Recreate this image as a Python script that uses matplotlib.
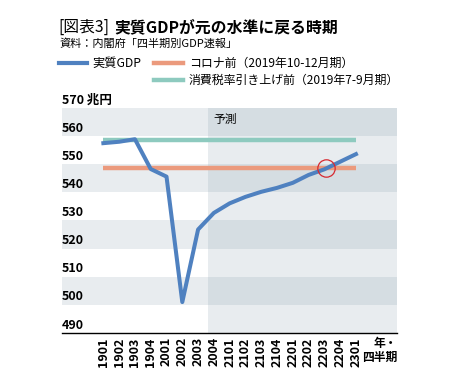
import numpy as np
import matplotlib
matplotlib.use('Agg')
import matplotlib.pyplot as plt
from matplotlib.patches import Rectangle

plt.rcParams['font.family'] = ['Noto Sans CJK JP', 'DejaVu Sans']

# --- datos ---
quarters = ['1901', '1902', '1903', '1904', '2001', '2002', '2003', '2004',
            '2101', '2102', '2103', '2104', '2201', '2202', '2203', '2204', '2301']
gdp = [557.5, 558.0, 558.9, 548.3, 545.6, 501.0, 526.8, 532.7,
       536.1, 538.4, 540.2, 541.6, 543.4, 546.2, 548.2, 550.9, 553.6]
pre_corona = 548.5     # 2019年10-12月期
pre_tax = 558.8        # 2019年7-9月期
forecast_from = '2004'
yticks = [490, 500, 510, 520, 530, 540, 550, 560, 570]

blue = '#4f81c0'
orange = '#eb9a7d'
teal = '#8ecabf'

W, H = 455, 389
fig = plt.figure(figsize=(W / 100, H / 100), dpi=100)
fig.patch.set_facecolor('white')

def fx(px):
    return px / W

def fy(py):
    return 1 - py / H

ax = fig.add_axes([fx(62), fy(333), fx(397) - fx(62), fy(108) - fy(333)])
x = np.arange(len(quarters))
xmin, xmax = -2.62, 18.6
ax.set_xlim(xmin, xmax)
ax.set_ylim(yticks[0], yticks[-1])

# bandas de fondo (gris / blanco, más oscuro en la zona de previsión)
fc_start = quarters.index(forecast_from) - 0.37
for i, lo in enumerate(yticks[:-1]):
    odd = i % 2 == 1
    ax.add_patch(Rectangle((xmin, lo), fc_start - xmin, 10,
                           facecolor='#e8ecef' if odd else 'white', edgecolor='none', zorder=0))
    ax.add_patch(Rectangle((fc_start, lo), xmax - fc_start, 10,
                           facecolor='#d5dde2' if odd else '#e8ecef', edgecolor='none', zorder=0))

ax.text(fc_start + 0.35, 568.2, '予測', fontsize=8.5, va='top', ha='left')

# líneas de referencia y serie
ax.plot([x[0], x[-1]], [pre_tax, pre_tax], color=teal, lw=3.2, solid_capstyle='butt', zorder=2)
ax.plot([x[0], x[-1]], [pre_corona, pre_corona], color=orange, lw=3.2, solid_capstyle='butt', zorder=2)
ax.plot(x, gdp, color=blue, lw=2.9, zorder=3)

# punto donde el PIB vuelve al nivel pre-corona
g = np.array(gdp)
k = np.where((g[:-1] < pre_corona) & (g[1:] >= pre_corona))[0][-1]
xc = k + (pre_corona - g[k]) / (g[k + 1] - g[k])
ax.plot([xc], [pre_corona], marker='o', ms=12.5, mfc='none', mec='#d7282f', mew=0.9, zorder=4)

# ejes
for s in ['top', 'right', 'left']:
    ax.spines[s].set_visible(False)
ax.spines['bottom'].set_color('black')
ax.spines['bottom'].set_linewidth(1.0)
ax.set_yticks([])
ax.set_xticks(x)
ax.set_xticklabels(quarters, rotation=90, fontsize=9, fontweight='bold')
ax.tick_params(axis='x', length=0, pad=3)

for v in yticks:
    lab = '570 兆円' if v == yticks[-1] else str(v)
    ax.annotate(lab, (xmin, v), xytext=(0, 1), textcoords='offset points',
                fontsize=9, fontweight='bold', ha='left', va='bottom')

fig.text(fx(397), fy(343), '年・', fontsize=8.5, fontweight='bold', ha='right', va='center')
fig.text(fx(397), fy(357), '四半期', fontsize=8.5, fontweight='bold', ha='right', va='center')

# títulos
fig.text(fx(58), fy(27), '[図表3]', fontsize=11.3, ha='left', va='center')
fig.text(fx(114), fy(27), '実質GDPが元の水準に戻る時期', fontsize=11.4, fontweight='bold',
         ha='left', va='center')
fig.text(fx(59), fy(44), '資料：内閣府「四半期別GDP速報」', fontsize=8, ha='left', va='center')

# leyenda
fig.add_artist(plt.Line2D([fx(59), fx(87)], [fy(63), fy(63)], color=blue, lw=3))
fig.text(fx(92), fy(63), '実質GDP', fontsize=8.8, ha='left', va='center')
fig.add_artist(plt.Line2D([fx(154), fx(183)], [fy(63), fy(63)], color=orange, lw=3.2))
fig.text(fx(189), fy(63), 'コロナ前（2019年10-12月期）', fontsize=8.6, ha='left', va='center')
fig.add_artist(plt.Line2D([fx(154), fx(183)], [fy(80), fy(80)], color=teal, lw=3.2))
fig.text(fx(189), fy(80), '消費税率引き上げ前（2019年7-9月期）', fontsize=8.6, ha='left', va='center')

fig.savefig('out.png', dpi=100)
